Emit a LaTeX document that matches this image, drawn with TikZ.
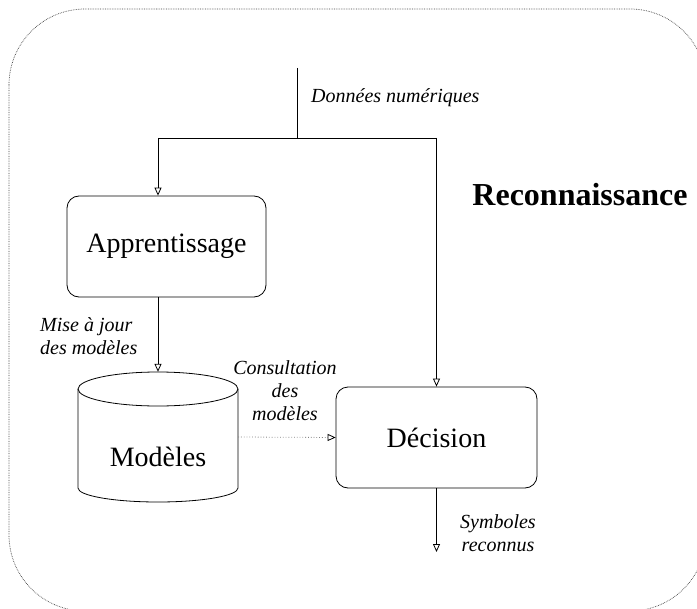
\documentclass[tikz,border=0pt]{standalone}
\usepackage{fontspec}
\setmainfont{Liberation Serif}
\usetikzlibrary{arrows.meta,calc}

\tikzset{
  procbox/.style={draw, line width=0.8bp, rounded corners=12bp,
                  minimum width=200bp, minimum height=101bp,
                  font=\fontsize{28bp}{32bp}\selectfont},
  flow/.style={line width=0.8bp, -{Triangle[open,length=8bp,width=7bp]}},
  consult/.style={gray, dotted, line width=0.8bp, -{Triangle[open,length=8bp,width=7bp,color=black]}},
  lbl/.style={font=\fontsize{20bp}{23bp}\selectfont\itshape, inner sep=0pt},
  frame/.style={densely dotted, line width=0.7bp, black!75, rounded corners=76bp}
}

\begin{document}
\begin{tikzpicture}[x=1bp, y=-1bp]
  \useasboundingbox (0,0) rectangle (697,609);
  \clip (0,0) rectangle (697,609);

  % enclosing frame
  \draw[frame] (9,9) rectangle (706,611);

  % processing blocks
  \node[procbox, minimum width=199bp] (app) at (166.5,246.5) {Apprentissage};
  \node[procbox, minimum width=201bp] (dec) at (436.5,437.5) {Décision};

  % model store (cylinder)
  \node[minimum width=160bp, minimum height=130bp, inner sep=0pt] (mod) at (158,437) {};
  \draw[line width=0.8bp] (158,389) ellipse [x radius=80bp, y radius=17bp];
  \draw[line width=0.8bp] (78,389) -- (78,488)
        arc[start angle=180, end angle=360, x radius=80bp, y radius=14bp]
        -- (238,389);
  \node[font=\fontsize{28bp}{32bp}\selectfont] (modtxt) at (158,457) {Modèles};

  % input data and its split
  \coordinate (din) at (297,68);
  \coordinate (junc) at (297,138);
  \coordinate (lbr) at (158,138);
  \coordinate (rbr) at (436.5,138);
  \coordinate (out) at (436.5,552);
  \draw[line width=0.8bp] (din) -- (junc);
  \draw[line width=0.8bp] (lbr) -- (rbr);
  \draw[flow] (lbr) -- (lbr |- app.north);
  \draw[flow] (rbr) -- (dec.north);
  \draw[flow] (lbr |- app.south) -- (mod.north);
  \draw[consult] (mod.east) -- (dec.west);
  \draw[flow] (dec.south) -- (out);

  % labels
  \node[lbl, anchor=west] (ldata) at (311,98) {Données numériques};
  \node[lbl, anchor=west, align=left] (lmaj) at (40,336) {Mise à jour\\des modèles};
  \node[lbl, align=center] (lcons) at (285,391) {Consultation\\des\\modèles};
  \node[lbl, align=center] (lsym) at (498,533) {Symboles\\reconnus};
  \node[font=\fontsize{32bp}{36bp}\selectfont\bfseries] (title) at (580,195) {Reconnaissance};
\end{tikzpicture}
\end{document}
